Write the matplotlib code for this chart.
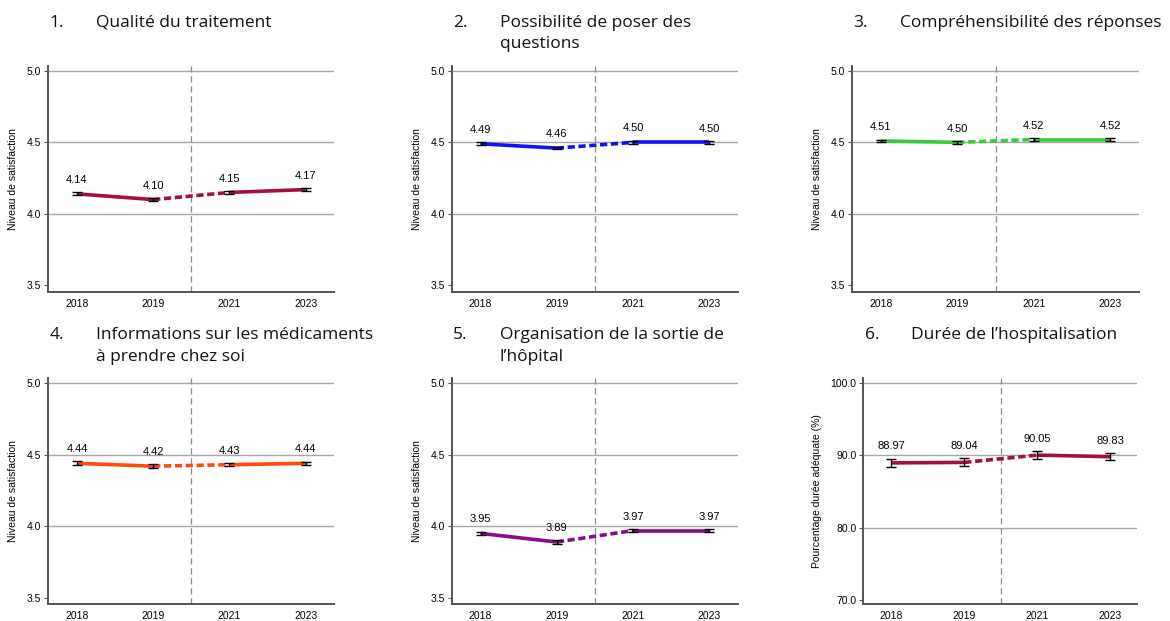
import matplotlib
matplotlib.use('Agg')
import matplotlib.pyplot as plt
import numpy as np

YEARS = ['2018', '2019', '2021', '2023']

TITLES = [
    'Qualité du traitement',
    'Possibilité de poser des\nquestions',
    'Compréhensibilité des réponses',
    'Informations sur les médicaments\nà prendre chez soi',
    'Organisation de la sortie de\nl’hôpital',
    'Durée de l’hospitalisation',
]

qualite = [4.14, 4.10, 4.15, 4.17]
questions = [4.49, 4.46, 4.50, 4.50]
reponses = [4.51, 4.50, 4.52, 4.52]
medicaments = [4.44, 4.42, 4.43, 4.44]
sortie = [3.95, 3.89, 3.97, 3.97]
duree = [88.97, 89.04, 90.05, 89.83]

err_qualite = [0.010, 0.010, 0.010, 0.010]
err_questions = [0.010, 0.008, 0.010, 0.009]
err_reponses = [0.010, 0.008, 0.009, 0.009]
err_medicaments = [0.013, 0.012, 0.012, 0.012]
err_sortie = [0.012, 0.011, 0.010, 0.010]
err_duree = [0.55, 0.55, 0.50, 0.45]

SERIES = [qualite, questions, reponses, medicaments, sortie, duree]
ERRORS = [err_qualite, err_questions, err_reponses, err_medicaments, err_sortie, err_duree]
COLORS = ['#A50F3A', '#1010F5', '#3CC83C', '#FF4A0A', '#8B0A8B', '#A50F3A']

SAT_TICKS = [3.5, 4.0, 4.5, 5.0]
PCT_TICKS = [70.0, 80.0, 90.0, 100.0]

LEFTS = [0.041, 0.386, 0.728, 0.041, 0.386, 0.738]
WIDTHS = [0.2444, 0.2444, 0.2453, 0.2444, 0.2444, 0.2342]
BOTTOMS = [0.530, 0.530, 0.530, 0.027, 0.027, 0.027]
H = 0.364

plt.rcParams['font.family'] = ['Liberation Sans', 'DejaVu Sans']

fig = plt.figure(figsize=(11.7, 6.21), dpi=100)

for i in range(6):
    ax = fig.add_axes([LEFTS[i], BOTTOMS[i], WIDTHS[i], H])
    vals = np.array(SERIES[i])
    errs = np.array(ERRORS[i])
    x = np.arange(len(YEARS))
    col = COLORS[i]

    if i == 5:
        ticks = PCT_TICKS
        ax.set_ylim(69.4, 100.7)
        ylabel = 'Pourcentage durée adéquate (%)'
    else:
        ticks = SAT_TICKS
        ax.set_ylim(3.455, 5.035)
        ylabel = 'Niveau de satisfaction'

    for t in ticks[1:]:
        ax.axhline(t, color='#a6a6a6', lw=1.0, zorder=0)
    ax.axvline(1.5, color='#888888', lw=0.9, ls=(0, (5, 3)), zorder=1)

    ax.plot(x[:2], vals[:2], color=col, lw=2.6, solid_capstyle='butt', zorder=2)
    ax.plot(x[1:3], vals[1:3], color=col, lw=2.6, ls=(0, (2, 1)), zorder=2)
    ax.plot(x[2:], vals[2:], color=col, lw=2.6, solid_capstyle='butt', zorder=2)
    ax.errorbar(x, vals, yerr=errs, fmt='none', ecolor='black', elinewidth=1.0,
                capsize=3.5, capthick=1.0, zorder=3)

    for xi, v, e in zip(x, vals, errs):
        ax.annotate(f'{v:.2f}', (xi, v + e), xytext=(0, 9), textcoords='offset points',
                    ha='center', va='center', fontsize=8)

    ax.set_xlim(-0.38, 3.37)
    ax.set_xticks(x)
    ax.set_xticklabels(YEARS)
    ax.set_yticks(ticks)
    ax.set_yticklabels([f'{t:.1f}' for t in ticks])
    ax.tick_params(axis='x', length=0, labelsize=7.5, pad=5)
    ax.tick_params(axis='y', length=3, width=0.8, color='#555555', labelsize=7.5, pad=2)
    ax.set_ylabel(ylabel, fontsize=7.5, labelpad=6)

    for s in ['top', 'right']:
        ax.spines[s].set_visible(False)
    for s in ['left', 'bottom']:
        ax.spines[s].set_color('#555555')
        ax.spines[s].set_linewidth(1.4)

    top = BOTTOMS[i] + H + 0.082
    fig.text(LEFTS[i] + 0.001, top, f'{i + 1}.', fontsize=12.5, va='top', ha='left',
             family=['Open Sans', 'DejaVu Sans'], color='#111111')
    fig.text(LEFTS[i] + 0.041, top, TITLES[i], fontsize=12.5, va='top', ha='left',
             family=['Open Sans', 'DejaVu Sans'], color='#111111', linespacing=1.45)

fig.savefig('out.png', dpi=100)
